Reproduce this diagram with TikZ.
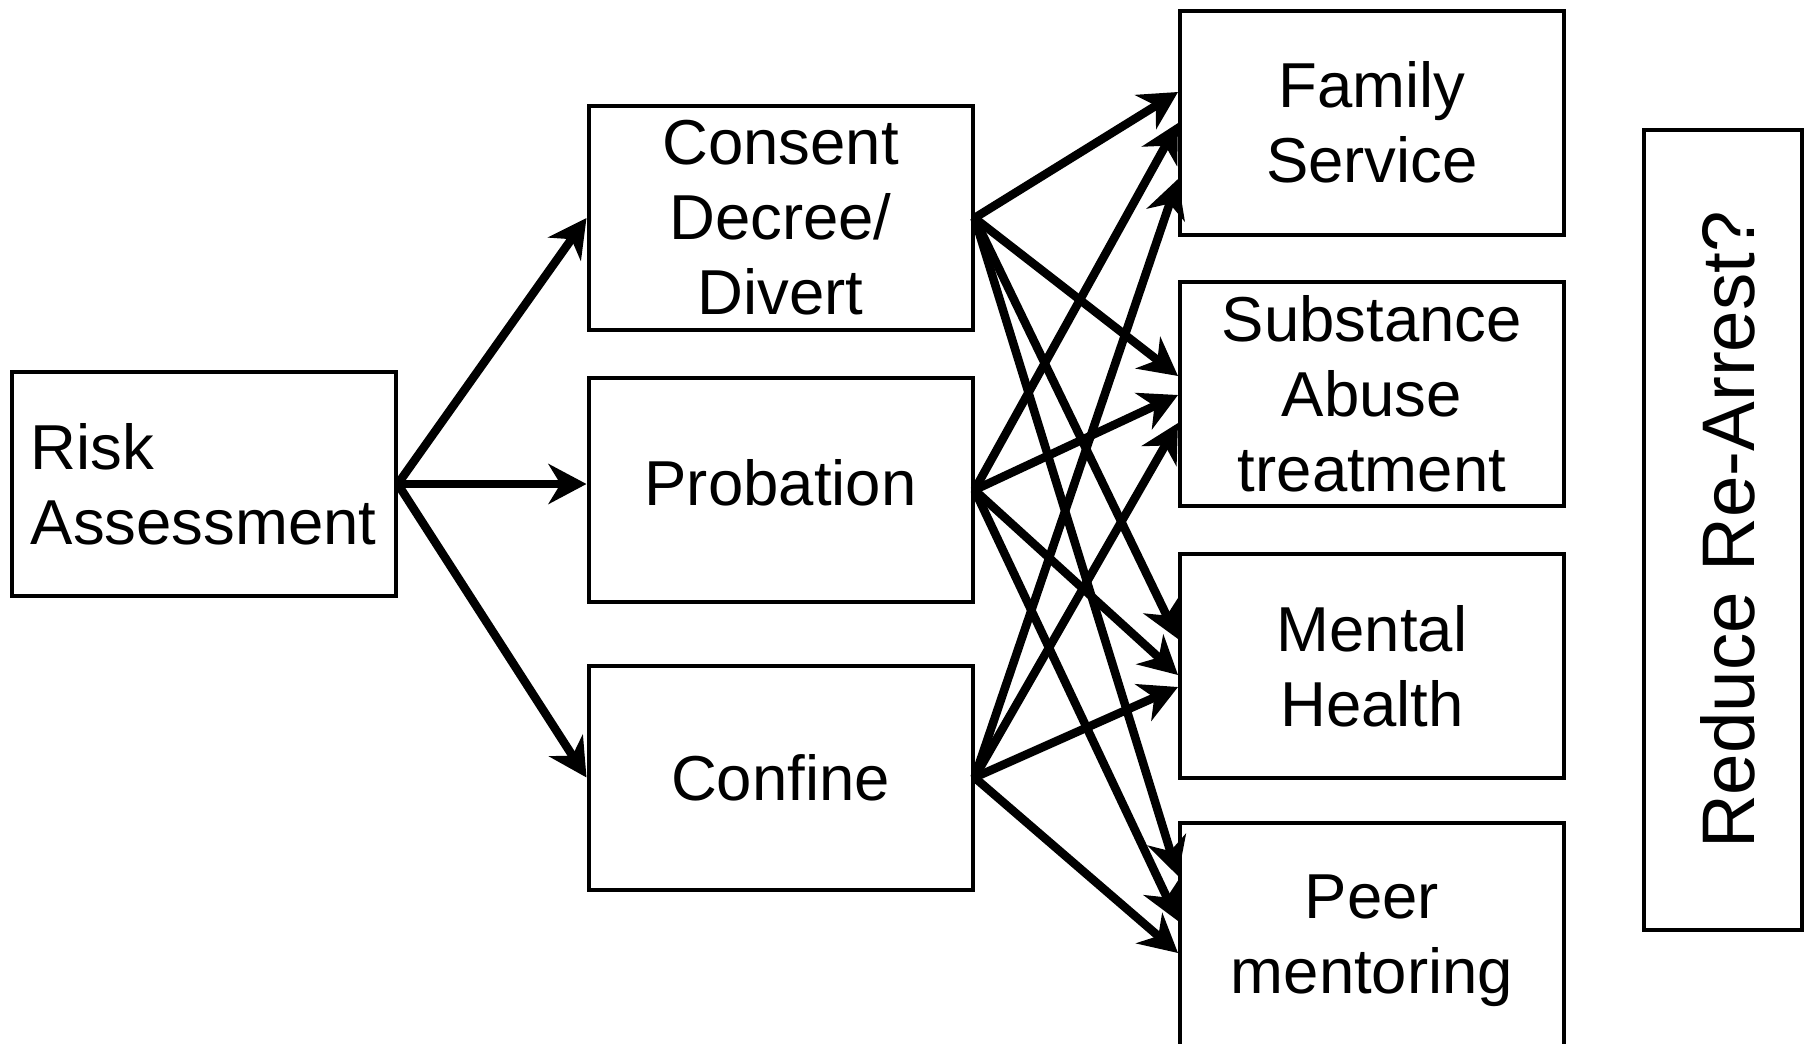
\documentclass[tikz,border=0pt]{standalone}
\usepackage{fontspec}
\setmainfont{Liberation Sans}
\usetikzlibrary{arrows.meta,calc}
\begin{document}
\begin{tikzpicture}[x=1pt,y=-1pt,
  box/.style={draw, line width=4pt, minimum width=384pt, minimum height=224pt, inner sep=0pt, align=center, font=\fontsize{63.5}{75}\selectfont},
  conn/.style={line width=8.5pt, -{Stealth[length=38pt,width=40pt,inset=12pt]}}]
\useasboundingbox (0,0) rectangle (1805,1044);
\node[box, align=left] (R) at (203.75,484) {Risk\\Assessment};
\node[box] (CD) at (780.5,218) {Consent\\Decree/\\Divert};
\node[box, text depth=15pt] (P) at (780.5,490) {Probation};
\node[box] (CF) at (780.5,777.5) {Confine};
\node[box] (FS) at (1372,122.5) {Family\\Service};
\node[box] (SA) at (1372,394) {Substance\\Abuse\\treatment};
\node[box] (MH) at (1372,666) {Mental\\Health};
\node[box, text depth=0pt] (PM) at (1372,934.5) {Peer\\mentoring};
\node[draw, line width=4pt, minimum width=800pt, minimum height=158pt, inner sep=0pt, rotate=90, font=\fontsize{74.5}{80}\selectfont, text height=62pt, text depth=0pt] (RR) at (1723,530) {Reduce Re-Arrest?};
% from risk
\draw[conn] (R.east) -- (CD.west);
\draw[conn] (R.east) -- (R.east -| P.west);
\draw[conn] (R.east) -- (CF.west);
% from consent
\draw[conn] (CD.east) -- ($(FS.west)+(0,-30.5)$);
\draw[conn] (CD.east) -- ($(SA.west)+(0,-18)$);
\draw[conn] (CD.east) -- ($(MH.west)+(0,-27)$);
\draw[conn] (CD.east) -- ($(PM.west)+(0,-58.5)$);
% from probation
\draw[conn] (P.east) -- ($(FS.west)+(0,0.5)$);
\draw[conn] (P.east) -- ($(SA.west)+(0,1)$);
\draw[conn] (P.east) -- ($(MH.west)+(0,9)$);
\draw[conn] (P.east) -- ($(PM.west)+(0,-13.5)$);
% from confine
\draw[conn] (CF.east) -- ($(FS.west)+(0,56.5)$);
\draw[conn] (CF.east) -- ($(SA.west)+(0,29)$);
\draw[conn] (CF.east) -- ($(MH.west)+(0,21)$);
\draw[conn] (CF.east) -- ($(PM.west)+(0,18.5)$);
\end{tikzpicture}
\end{document}
